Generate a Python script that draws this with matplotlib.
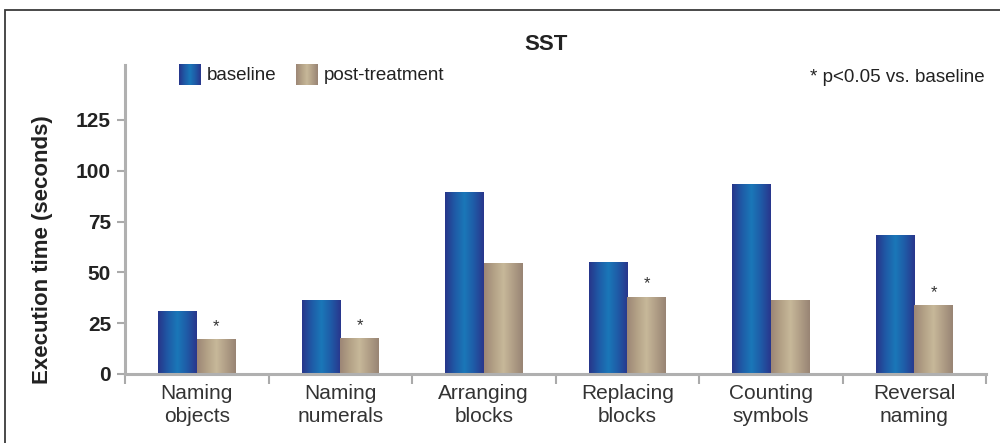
import numpy as np
import matplotlib.pyplot as plt
from matplotlib.patches import Rectangle
from matplotlib.colors import LinearSegmentedColormap

plt.rcParams['font.family'] = ['Liberation Sans', 'DejaVu Sans']

categories = ['Naming\nobjects', 'Naming\nnumerals', 'Arranging\nblocks',
              'Replacing\nblocks', 'Counting\nsymbols', 'Reversal\nnaming']
baseline = [31, 36.5, 89.5, 55, 93.5, 68.5]
post_treatment = [17, 17.5, 54.5, 38, 36.5, 34]
significant = [True, True, False, True, False, True]

blue_cmap = LinearSegmentedColormap.from_list(
    'blue', ['#27358a', '#1f5aa6', '#1a77b8', '#1f5aa6', '#29368c'])
tan_cmap = LinearSegmentedColormap.from_list(
    'tan', ['#9c8676', '#b3a186', '#c7b899', '#b09e86', '#988474'])

fig = plt.figure(figsize=(10, 4.43), dpi=100)
ax = fig.add_axes([0.125, 0.156, 0.861, 0.697])

# outer frame (runs off the right and bottom edges)
fig.patches.append(Rectangle((0.005, -0.1), 1.2, 1.1 - 10 / 443, transform=fig.transFigure,
                             fill=False, edgecolor='#3a3a3a', linewidth=1.3, zorder=0))

x = np.arange(len(categories))
w = 0.27
b1 = ax.bar(x - w / 2, baseline, w, color='none', label='baseline')
b2 = ax.bar(x + w / 2, post_treatment, w, color='none', label='post-treatment')

grad = np.linspace(0, 1, 256).reshape(1, -1)
for bars, cmap in ((b1, blue_cmap), (b2, tan_cmap)):
    for r in bars:
        im = ax.imshow(grad, cmap=cmap, aspect='auto', zorder=2,
                       extent=[r.get_x(), r.get_x() + r.get_width(), 0, r.get_height()])
        im.set_clip_path(r)

for xi, v, s in zip(x, post_treatment, significant):
    if s:
        ax.text(xi + w / 2, v + 2.5, '*', ha='center', va='bottom', fontsize=12, color='#333333')

ax.set_xlim(-0.5, len(categories) - 0.5)
ax.set_ylim(0, 152)
ax.set_yticks([0, 25, 50, 75, 100, 125])
ax.set_yticklabels(['0', '25', '50', '75', '100', '125'], fontsize=15, fontweight='bold', color='#222222')
ax.set_xticks(x)
ax.set_xticklabels(categories, fontsize=15, color='#333333', linespacing=1.3)
ax.set_xticks(np.arange(len(categories) + 1) - 0.5, minor=True)
ax.tick_params(axis='x', which='major', length=0, pad=7)
ax.tick_params(axis='x', which='minor', length=7, width=1.5, color='#aaaaaa')
ax.tick_params(axis='y', length=6, width=1.5, color='#aaaaaa', pad=4)

for side in ('top', 'right'):
    ax.spines[side].set_visible(False)
for side in ('left', 'bottom'):
    ax.spines[side].set_color('#b0b0b0')
    ax.spines[side].set_linewidth(2.2)

fig.text(0.043, 1 - 250 / 443, 'Execution time (seconds)', rotation=90, ha='center', va='center',
         fontsize=16, fontweight='bold', color='#222222')
fig.text(0.546, 1 - 45 / 443, 'SST', ha='center', va='center', fontsize=16, fontweight='bold', color='#222222')
fig.text(0.985, 1 - 78 / 443, '* p<0.05 vs. baseline', ha='right', va='center', fontsize=13.5, color='#222222')

# legend drawn as patches in figure coordinates
leg_items = [(0.179, blue_cmap, 'baseline'), (0.296, tan_cmap, 'post-treatment')]
for lx, cmap, lab in leg_items:
    lax = fig.add_axes([lx, 1 - 85 / 443, 0.022, 21 / 443])
    lax.imshow(grad, cmap=cmap, aspect='auto')
    lax.axis('off')
    fig.text(lx + 0.028, 1 - 76 / 443, lab, ha='left', va='center', fontsize=13.5, color='#222222')

fig.savefig('out.png', dpi=100)
